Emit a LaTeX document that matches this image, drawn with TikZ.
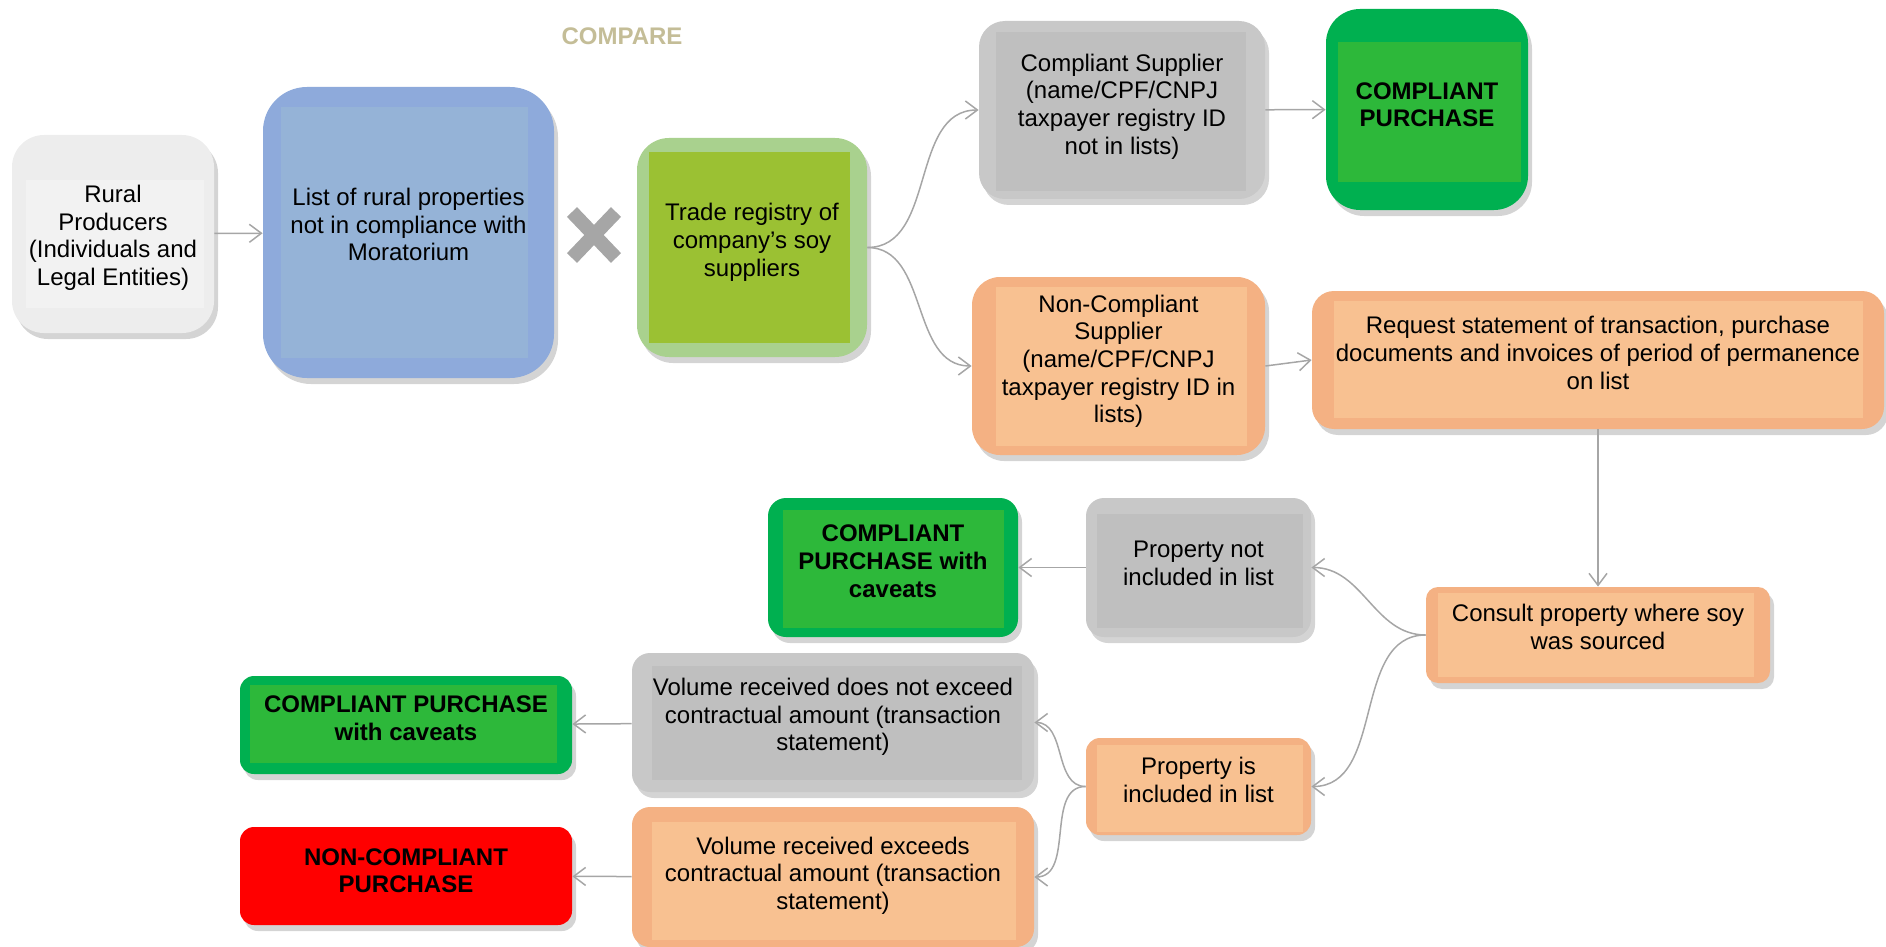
\documentclass[tikz,border=0pt]{standalone}
\usepackage{fontspec}
\setmainfont{Liberation Sans}
\usetikzlibrary{arrows.meta,shadows}

\definecolor{linegray}{HTML}{A6A6A6}
\definecolor{ruralout}{HTML}{EDEDED}
\definecolor{ruralin}{HTML}{F2F2F2}
\definecolor{blueout}{HTML}{8EAADB}
\definecolor{bluein}{HTML}{95B3D7}
\definecolor{leafout}{HTML}{A9D18E}
\definecolor{leafin}{HTML}{9BC133}
\definecolor{grayout}{HTML}{C8C8C8}
\definecolor{grayin}{HTML}{BFBFBF}
\definecolor{okout}{HTML}{00B050}
\definecolor{okin}{HTML}{2DB83A}
\definecolor{orangeout}{HTML}{F4B183}
\definecolor{orangein}{HTML}{F8C191}
\definecolor{badred}{HTML}{FF0000}
\definecolor{comparetan}{HTML}{C4BD97}

\newcommand{\boxfont}{\fontsize{12}{13.85}\selectfont}
% text block, raised by \liftamt inside its box
\newcommand{\boxtext}[1]{\raisebox{0pt}[\dimexpr\height-\liftamt\relax][\dimexpr\depth+\liftamt\relax]{\begin{tabular}{@{}c@{}}#1\end{tabular}}}

\tikzset{
  inset/.code args={#1/#2/#3/#4}{\def\insL{#1}\def\insR{#2}\def\insT{#3}\def\insB{#4}},
  inset=6pt/6pt/5pt/5pt,
  lift/.store in=\liftamt, lift=1.8pt,
  box/.style 2 args={rectangle, fill=#1, inner sep=0pt,
    drop shadow={shadow xshift=2pt, shadow yshift=-3pt, fill=black, opacity=.17},
    path picture={\fill[#2, sharp corners] ([shift={(\insL,-\insT)}]path picture bounding box.north west)
      rectangle ([shift={(-\insR,\insB)}]path picture bounding box.south east);}},
  bold/.style={font=\boxfont\bfseries},
  link/.style={draw=linegray, line width=0.75pt, -{Straight Barb[length=6pt,width=9pt]}}
}

\begin{document}
\begin{tikzpicture}[x=0.5pt, y=-0.5pt, font=\boxfont]
\useasboundingbox (0,0) rectangle (1886,947);

% top row
\node[text=comparetan, bold] (compare) at (622,36) {COMPARE};
\node[box={ruralout}{ruralin}, rounded corners=16pt, minimum width=101pt, minimum height=99pt, inset=7pt/5pt/22.5pt/12.5pt, lift=-2.2pt] (rural) at (113,234) {\boxtext{Rural\\Producers\\(Individuals and\\Legal Entities)}};
\node[box={blueout}{bluein}, rounded corners=22pt, minimum width=145.5pt, minimum height=145.5pt, inset=9pt/13pt/10pt/10pt, lift=2.4pt] (list) at (408.5,232.5) {\boxtext{List of rural properties\\not in compliance with\\Moratorium}};
\draw[linegray, line width=7pt] (572,212) -- (616,258) (572,258) -- (616,212);
\node[box={leafout}{leafin}, rounded corners=16pt, minimum width=115pt, minimum height=109.5pt, inset=6pt/8.5pt/7pt/7pt, lift=2.2pt] (trade) at (752,247.5) {\boxtext{Trade registry of\\company’s soy\\suppliers}};
\node[box={grayout}{grayin}, rounded corners=13pt, minimum width=143pt, minimum height=89pt, inset=8.5pt/9.5pt/5.5pt/4pt, lift=1.4pt] (compsup) at (1122,110) {\boxtext{Compliant Supplier\\(name/CPF/CNPJ\\taxpayer registry ID\\not in lists)}};
\node[box={okout}{okin}, bold, rounded corners=17pt, minimum width=101pt, minimum height=100.5pt, inset=6pt/3.5pt/16.5pt/14pt, lift=1pt] (comppur) at (1427,109.5) {\boxtext{COMPLIANT\\PURCHASE}};
\node[box={orangeout}{orangein}, rounded corners=14pt, minimum width=146.5pt, minimum height=89pt, inset=12pt/9pt/5pt/4.5pt, lift=2pt] (noncompsup) at (1118.5,366) {\boxtext{Non-Compliant\\Supplier\\(name/CPF/CNPJ\\taxpayer registry ID in\\lists)}};
\node[box={orangeout}{orangein}, rounded corners=11pt, minimum width=286pt, minimum height=69pt, inset=11pt/10.5pt/5pt/5.5pt, lift=2.1pt] (request) at (1598,360) {\boxtext{Request statement of transaction, purchase\\documents and invoices of period of permanence\\on list}};

% lower part
\node[box={orangeout}{orangein}, rounded corners=6pt, minimum width=172pt, minimum height=48pt, inset=6pt/8pt/3pt/3pt, lift=2.4pt] (consult) at (1598,635) {\boxtext{Consult property where soy\\was sourced}};
\node[box={grayout}{grayin}, rounded corners=9pt, minimum width=112.5pt, minimum height=69.5pt, inset=5.5pt/4pt/8pt/4.5pt, lift=0.6pt] (propnot) at (1198.5,567.5) {\boxtext{Property not\\included in list}};
\node[box={okout}{okin}, bold, rounded corners=9pt, minimum width=125pt, minimum height=69.5pt, inset=7.5pt/7pt/6pt/4.5pt] (caveatsA) at (893,567.5) {\boxtext{COMPLIANT\\PURCHASE with\\caveats}};
\node[box={orangeout}{orangein}, rounded corners=7pt, minimum width=112.5pt, minimum height=48.5pt, inset=5.5pt/4pt/3.5pt/1.5pt] (propis) at (1198.5,786.5) {\boxtext{Property is\\included in list}};
\node[box={grayout}{grayin}, rounded corners=9pt, minimum width=201pt, minimum height=69.5pt, inset=10pt/6pt/6.5pt/6pt, lift=2.4pt] (volnot) at (833,722.5) {\boxtext{Volume received does not exceed\\contractual amount (transaction\\statement)}};
\node[box={orangeout}{orangein}, rounded corners=9pt, minimum width=201pt, minimum height=70pt, inset=10pt/9pt/7.5pt/3.5pt, lift=0.4pt] (volex) at (833,877) {\boxtext{Volume received exceeds\\contractual amount (transaction\\statement)}};
\node[box={okout}{okin}, bold, rounded corners=7pt, minimum width=166pt, minimum height=49pt, inset=5pt/7.5pt/4.5pt/5.5pt, lift=2.1pt] (caveatsB) at (406,725) {\boxtext{COMPLIANT PURCHASE\\with caveats}};
\node[box={badred}{badred}, bold, rounded corners=7pt, minimum width=166pt, minimum height=49pt, lift=1.2pt] (noncomp) at (406,876) {\boxtext{NON-COMPLIANT\\PURCHASE}};

% connectors
\draw[link] (rural) -- (list);
\draw[link] (trade.east) to[out=0, in=180] (compsup.west);
\draw[link] (trade.east) to[out=0, in=180] (noncompsup.west);
\draw[link] (compsup) -- (comppur);
\draw[link] (noncompsup.east) -- (request.west);
\draw[link] (request) -- (consult);
\draw[link] (consult.west) to[out=180, in=0] (propnot.east);
\draw[link] (consult.west) to[out=180, in=0] (propis.east);
\draw[link] (propnot) -- (caveatsA);
\draw[link] (propis.west) to[out=180, in=0] (volnot.east);
\draw[link] (propis.west) to[out=180, in=0] (volex.east);
\draw[link] (volnot) -- (caveatsB);
\draw[link] (volex) -- (noncomp);
\end{tikzpicture}
\end{document}
